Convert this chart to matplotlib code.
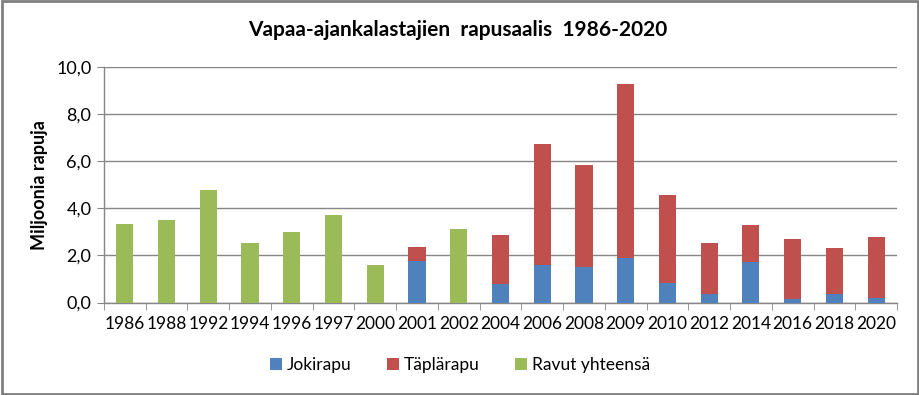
import numpy as np
import matplotlib.pyplot as plt
from matplotlib.patches import Rectangle

plt.rcParams['font.family'] = ['Lato', 'DejaVu Sans']

years = ['1986', '1988', '1992', '1994', '1996', '1997', '2000', '2001', '2002', '2004',
         '2006', '2008', '2009', '2010', '2012', '2014', '2016', '2018', '2020']
# Jokirapu (blue), Täplärapu (red, stacked), Ravut yhteensä (green)
jokirapu = [0, 0, 0, 0, 0, 0, 0, 1.77, 0, 0.78,
            1.60, 1.51, 1.88, 0.83, 0.36, 1.72, 0.17, 0.36, 0.21]
taplarapu = [0, 0, 0, 0, 0, 0, 0, 0.60, 0, 2.10,
             5.15, 4.35, 7.39, 3.76, 2.17, 1.59, 2.52, 1.94, 2.59]
yhteensa = [3.35, 3.49, 4.80, 2.53, 3.00, 3.73, 1.60, 0, 3.11, 0,
            0, 0, 0, 0, 0, 0, 0, 0, 0]

fig = plt.figure(figsize=(9.2, 3.95), dpi=100)
ax = fig.add_axes([0.113, 0.234, 0.862, 0.596])

x = np.arange(len(years))
w = 0.41
ax.bar(x, jokirapu, w, color='#4F81BD', label='Jokirapu', zorder=3)
ax.bar(x, taplarapu, w, bottom=jokirapu, color='#C0504D', label='Täplärapu', zorder=3)
ax.bar(x, yhteensa, w, color='#9BBB59', label='Ravut yhteensä', zorder=3)

ax.set_xlim(-0.5, len(years) - 0.5)
ax.set_ylim(0, 10)
ax.set_yticks(np.arange(0, 10.1, 2))
ax.set_yticklabels([f'{v:.1f}'.replace('.', ',') for v in np.arange(0, 10.1, 2)], fontsize=13)
ax.set_xticks(x)
ax.set_xticklabels(years, fontsize=12.5)
ax.tick_params(axis='x', length=0, pad=10)
ax.set_xticks(np.arange(-0.5, len(years)), minor=True)
ax.tick_params(axis='x', which='minor', length=5, color='#868686', direction='out')
ax.tick_params(axis='y', length=5, color='#868686', direction='out', pad=4)

ax.yaxis.grid(True, color='#868686', linewidth=1, zorder=0)
for s in ['top', 'right']:
    ax.spines[s].set_visible(False)
for s in ['left', 'bottom']:
    ax.spines[s].set_color('#868686')
    ax.spines[s].set_linewidth(1)

ax.set_ylabel('Miljoonia rapuja', fontsize=13, fontweight='bold', labelpad=6)
fig.text(0.497, 0.925, 'Vapaa-ajankalastajien  rapusaalis  1986-2020', ha='center', va='center',
         fontsize=15, fontweight='bold')

fig.legend(loc='center', bbox_to_anchor=(0.5, 0.075), ncol=3, frameon=False,
           fontsize=12.5, handlelength=0.7, handleheight=0.7, handletextpad=0.3, columnspacing=2.0)

fig.patches.append(Rectangle((0.002, 0.003), 0.996, 0.994, transform=fig.transFigure,
                             fill=False, edgecolor='#808080', linewidth=2))

fig.savefig('out.png', dpi=100)
